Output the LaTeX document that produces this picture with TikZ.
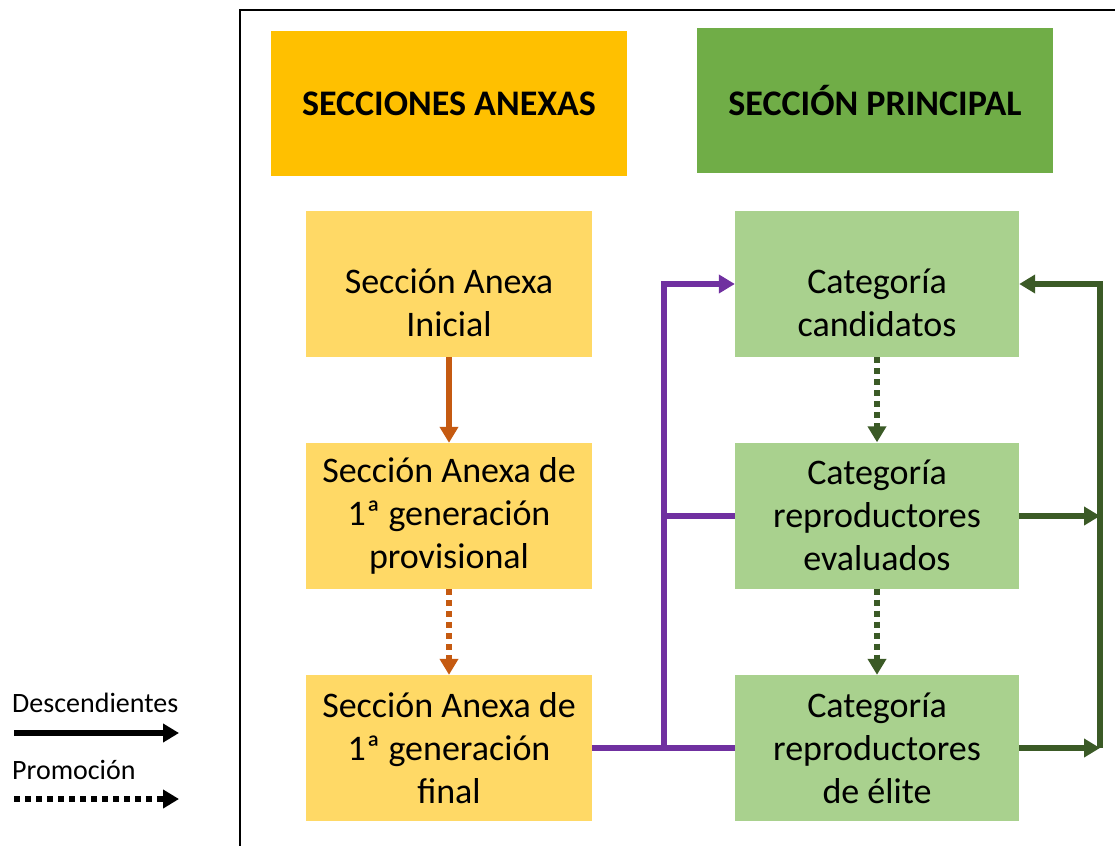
\documentclass[tikz,border=0pt]{standalone}
\usepackage{fontspec}
\setmainfont{Carlito}
\usetikzlibrary{arrows.meta}
\definecolor{hdrY}{HTML}{FFC000}
\definecolor{hdrG}{HTML}{70AD47}
\definecolor{boxY}{HTML}{FFD966}
\definecolor{boxG}{HTML}{A9D18E}
\definecolor{orng}{HTML}{C55A11}
\definecolor{purp}{HTML}{7030A0}
\definecolor{dkgr}{HTML}{3B5A26}
\tikzset{
  hdr/.style={minimum width=356pt, minimum height=145pt, inner sep=0pt, font=\fontsize{36}{43}\selectfont\bfseries},
  ybox/.style={fill=boxY, minimum width=286pt, minimum height=146pt, inner sep=0pt, align=center, font=\fontsize{36}{43}\selectfont},
  gbox/.style={fill=boxG, minimum width=284pt, minimum height=146pt, inner sep=0pt, align=center, font=\fontsize{36}{43}\selectfont},
  tip/.style={-{Triangle[length=16pt,width=18pt]}},
  solidarr/.style={tip, line width=5.5pt},
  dotarr/.style={tip, line width=6pt, dash pattern=on 6pt off 5pt},
  plain/.style={line width=5.5pt},
  legtxt/.style={anchor=west, inner sep=0pt, font=\fontsize{28}{32}\selectfont}
}
\begin{document}
\begin{tikzpicture}[x=1pt,y=-1pt]
\useasboundingbox (0,0) rectangle (1115,845);
\draw[line width=2pt] (240,860) -- (240,10) -- (1130,10);
% headers
\node[hdr, fill=hdrY] (h1) at (449,103.5) {SECCIONES ANEXAS};
\node[hdr, fill=hdrG] (h2) at (875,101) {SECCIÓN PRINCIPAL};
% yellow boxes
\node[ybox] (y1) at (449,284) {\vphantom{Sécd}\\Sección Anexa\\Inicial\vphantom{g}};
\node[ybox] (y2) at (449,516) {Sección Anexa de\\1ª generación\\provisional};
\node[ybox] (y3) at (449,748) {Sección Anexa de\\1ª generación\\final};
% green boxes
\node[gbox] (g1) at (877,284) {\vphantom{Céd}\\Categoría\\candidatos\vphantom{g}};
\node[gbox] (g2) at (877,515.5) {Categoría\\reproductores\\evaluados};
\node[gbox] (g3) at (877,748) {Categoría\\reproductores\\de élite};
% orange arrows
\draw[solidarr, orng] (y1.south) -- (y2.north);
\draw[dotarr, orng] (y2.south) -- (y3.north);
% green dotted
\draw[dotarr, dkgr] (g1.south) -- (g2.north);
\draw[dotarr, dkgr] (g2.south) -- (g3.north);
% purple
\coordinate (pb) at (664,748);
\coordinate (pm) at (664,516);
\coordinate (pt) at (664,284);
\draw[plain, purp] (y3.east) -- (g3.west);
\draw[solidarr, purp, line join=miter] (pb) -- (pt) -- (g1.west);
\draw[plain, purp] (pm) -- (g2.west |- pm);
% dark green right
\coordinate (rb) at (1100,748);
\coordinate (rm) at (1100,516);
\coordinate (rt) at (1100,284);
\draw[solidarr, dkgr, line width=6pt] (g2.east |- rm) -- (rm);
\draw[solidarr, dkgr, line width=6pt] (g3.east) -- (rb);
\draw[solidarr, dkgr, line width=6pt, line join=miter] (rb) -- (rt) -- (g1.east);
% legend
\node[legtxt] (l1) at (12,703) {Descendientes};
\node[legtxt] (l2) at (12,770) {Promoción};
\coordinate (a1s) at (14,733);
\coordinate (a1e) at (179,733);
\coordinate (a2s) at (14,799);
\coordinate (a2e) at (179,799);
\draw[solidarr, black] (a1s) -- (a1e);
\draw[dotarr, black] (a2s) -- (a2e);
\end{tikzpicture}
\end{document}
